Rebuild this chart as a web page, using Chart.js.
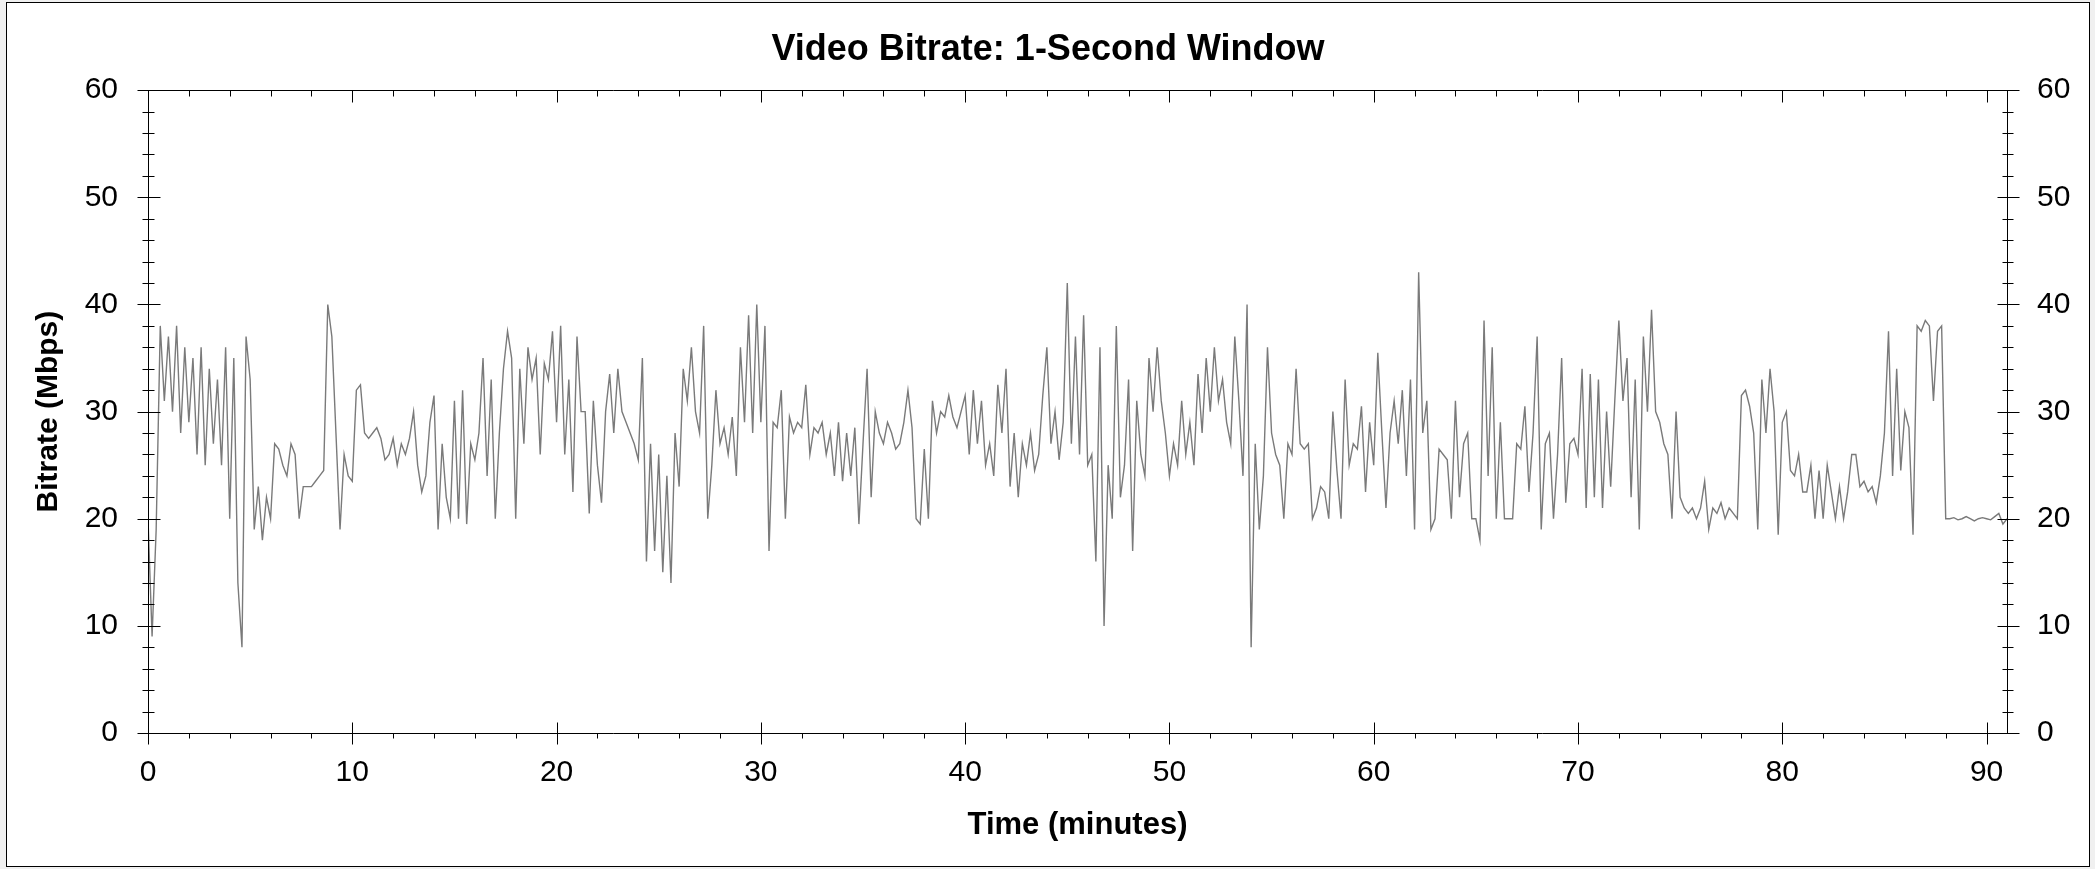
<!DOCTYPE html>
<html>
<head>
<meta charset="utf-8">
<title>Video Bitrate: 1-Second Window</title>
<script src="https://cdn.jsdelivr.net/npm/chart.js@4.4.1/dist/chart.umd.min.js"></script>
<style>
  html, body { margin: 0; padding: 0; background: #f0f0f0; }
  #frame {
    position: absolute; left: 6px; top: 2px;
    width: 2082px; height: 863px;
    border: 1px solid #000; background: #fff;
  }
  #bitrateChart { display: block; }
</style>
</head>
<body>
<div id="frame"><canvas id="bitrateChart" width="2082" height="863"></canvas></div>
<script>
// ================= Data =================
// minutes between samples
const STEP_MIN = 0.2;
// bitrate in Mbps, one row per minute (samples at .0 .2 .4 .6 .8)
const bitrateMbps = [
  20, 9, 19, 38, 31,        // 0
  37, 30, 38, 28, 36,       // 1
  29, 35, 26, 36, 25,       // 2
  34, 27, 33, 25, 36,       // 3
  20, 35, 14, 8, 37,        // 4
  33, 19, 23, 18, 22,       // 5
  20, 27, 26.5, 25, 24,     // 6
  27, 26, 20, 23, 23,       // 7
  23, 23.5, 24, 24.5, 40,   // 8
  37, 28, 19, 26, 24,       // 9
  23.5, 32, 32.5, 28, 27.5, // 10
  28, 28.5, 27.5, 25.5, 26, // 11
  27.5, 25, 27, 26, 27.5,   // 12
  30, 25, 22.5, 24, 29,     // 13
  31.5, 19, 27, 22, 20,     // 14
  31, 20, 32, 19.5, 27,     // 15
  25.5, 28, 35, 24, 33,     // 16
  20, 28, 34, 37.5, 35,     // 17
  20, 34, 27, 36, 33,       // 18
  35, 26, 34.5, 33, 37.5,   // 19
  29, 38, 26, 33, 22.5,     // 20
  37, 30, 30, 20.5, 31,     // 21
  25, 21.5, 30, 33.5, 28,   // 22
  34, 30, 29, 28, 27,       // 23
  25.5, 35, 16, 27, 17,     // 24
  26, 15, 24, 14, 28,       // 25
  23, 34, 31, 36, 30,       // 26
  28, 38, 20, 25, 32,       // 27
  27, 28.5, 26, 29.5, 24,   // 28
  36, 29, 39, 28, 40,       // 29
  29, 38, 17, 29, 28.5,     // 30
  32, 20, 29.5, 28, 29,     // 31
  28.5, 32.5, 26, 28.5, 28, // 32
  29, 26, 28, 24, 29,       // 33
  23.5, 28, 24, 28.5, 19.5, // 34
  27, 34, 22, 30, 28,       // 35
  27, 29, 28, 26.5, 27,     // 36
  29, 32, 28.5, 20, 19.5,   // 37
  26.5, 20, 31, 28, 30,     // 38
  29.5, 31.5, 29.5, 28.5, 30, // 39
  31.5, 26, 32, 27, 31,     // 40
  25, 27, 24, 32.5, 28,     // 41
  34, 23, 28, 22, 27,       // 42
  25, 28, 24.5, 26, 31.5,   // 43
  36, 27, 30, 25.5, 29,     // 44
  42, 27, 37, 26, 39,       // 45
  25, 26, 16, 36, 10,       // 46
  25, 20, 38, 22, 25,       // 47
  33, 17, 31, 26, 24,       // 48
  35, 30, 36, 31, 28,       // 49
  24, 27, 25, 31, 26,       // 50
  29, 25, 33.5, 28, 35,     // 51
  30, 36, 31, 33, 29,       // 52
  27, 37, 31, 24, 40,       // 53
  8, 27, 19, 24, 36,        // 54
  28, 26, 25, 20, 27,       // 55
  26, 34, 27, 26.5, 27,     // 56
  20, 21, 23, 22.5, 20,     // 57
  30, 24.5, 20, 33, 25,     // 58
  27, 26.5, 30.5, 22.5, 29, // 59
  25, 35.5, 28, 21, 28,     // 60
  31, 27, 32, 24, 33,       // 61
  19, 43, 28, 31, 19,       // 62
  20, 26.5, 26, 25.5, 20,   // 63
  31, 22, 27, 28, 20,       // 64
  20, 18, 38.5, 24, 36,     // 65
  20, 29, 20, 20, 20,       // 66
  27, 26.5, 30.5, 22.5, 28, // 67
  37, 19, 27, 28, 20,       // 68
  26, 35, 21.5, 27, 27.5,   // 69
  26, 34, 21, 33.5, 22,     // 70
  33, 21, 30, 23, 31,       // 71
  38.5, 31, 35, 22, 33,     // 72
  19, 37, 30, 39.5, 30,     // 73
  29, 27, 26, 20, 30,       // 74
  22, 21, 20.5, 21, 20,     // 75
  21, 23.5, 19, 21, 20.5,   // 76
  21.5, 20, 21, 20.5, 20,   // 77
  31.5, 32, 30.5, 28, 19,   // 78
  33, 28, 34, 30, 18.5,     // 79
  29, 30, 24.5, 24, 26,     // 80
  22.5, 22.5, 25, 20, 24.5, // 81
  20, 25, 22.5, 20, 23,     // 82
  20, 22.5, 26, 26, 23,     // 83
  23.5, 22.5, 23, 21.5, 24, // 84
  28, 37.5, 24, 34, 24.5,   // 85
  30, 28.5, 18.5, 38, 37.5, // 86
  38.5, 38, 31, 37.5, 38,   // 87
  20, 20, 20.1, 19.9, 20,   // 88
  20.2, 20, 19.8, 20, 20.1, // 89
  20, 19.9, 20.2, 20.5, 19.5, // 90
  20                        // 91
];

const xTicks = [0, 10, 20, 30, 40, 50, 60, 70, 80, 90];
const yTicks = [0, 10, 20, 30, 40, 50, 60];
const X_MAX = 91;
const Y_MAX = 60;
const MINOR_STEP = 2;

// ================= Chart =================
const FONT = '"Liberation Sans", Arial, sans-serif';

function fixedTicks(list) {
  return scale => { scale.ticks = list.map(v => ({ value: v })); };
}

// frame with crossing major ticks and small minor ticks on all four sides
const frameAxes = {
  id: 'frameAxes',
  afterDraw(chart) {
    const { ctx, chartArea: a, scales: { x, y } } = chart;
    const px = v => Math.round(x.getPixelForValue(v)) + 0.5;
    const py = v => Math.round(y.getPixelForValue(v)) + 0.5;
    const L = Math.round(a.left) + 0.5, R = Math.round(a.right) + 0.5;
    const T = Math.round(a.top) + 0.5, B = Math.round(a.bottom) + 0.5;
    const seg = (x1, y1, x2, y2) => { ctx.moveTo(x1, y1); ctx.lineTo(x2, y2); };

    ctx.save();
    ctx.strokeStyle = '#000';
    ctx.lineWidth = 1;
    ctx.beginPath();
    seg(L, T, R, T); seg(L, B, R, B);
    seg(L, T, L, B); seg(R, T, R, B);

    yTicks.forEach(v => {
      const p = py(v);
      seg(L - 11, p, L + 12, p);
      seg(R - 10, p, R + 12, p);
    });
    for (let v = MINOR_STEP; v < Y_MAX; v += MINOR_STEP) {
      if (v % 10 === 0) continue;
      const p = py(v);
      seg(L - 6, p, L + 6, p);
      seg(R - 5, p, R + 6, p);
    }
    xTicks.forEach(v => {
      const p = px(v);
      seg(p, B - 11, p, B + 11);
      seg(p, T, p, T + 12);
    });
    for (let v = MINOR_STEP; v < X_MAX; v += MINOR_STEP) {
      if (v % 10 === 0) continue;
      const p = px(v);
      seg(p, B, p, B + 5);
      seg(p, T, p, T + 6);
    }
    ctx.stroke();
    ctx.restore();
  }
};

const tickFont = { family: FONT, size: 30 };

new Chart(document.getElementById('bitrateChart').getContext('2d'), {
  type: 'line',
  data: {
    datasets: [{
      label: 'Video bitrate',
      data: bitrateMbps.map((v, i) => ({ x: i * STEP_MIN, y: v })),
      borderColor: '#7a7a7a',
      borderWidth: 1.4,
      pointRadius: 0,
      tension: 0,
      fill: false,
      yAxisID: 'y'
    }]
  },
  options: {
    responsive: false,
    devicePixelRatio: 1,
    animation: false,
    layout: { padding: 0 },
    scales: {
      x: {
        type: 'linear',
        position: 'bottom',
        min: 0,
        max: X_MAX,
        afterBuildTicks: fixedTicks(xTicks),
        afterFit: s => { s.height = 133; },
        grid: { display: false, drawTicks: false },
        border: { display: false },
        ticks: { color: '#000', font: tickFont, padding: 22, maxRotation: 0, autoSkip: false },
        title: {
          display: true,
          text: 'Time (minutes)',
          color: '#000',
          font: { family: FONT, size: 31, weight: 'bold' },
          padding: { top: 0, bottom: 22 }
        }
      },
      y: {
        position: 'left',
        min: 0,
        max: Y_MAX,
        afterBuildTicks: fixedTicks(yTicks),
        afterFit: s => { s.width = 141; },
        grid: { display: false, drawTicks: false },
        border: { display: false },
        ticks: { color: '#000', font: tickFont, padding: 30 },
        title: {
          display: true,
          text: 'Bitrate (Mbps)',
          color: '#000',
          font: { family: FONT, size: 30, weight: 'bold' },
          padding: { top: 24, bottom: 0 }
        }
      },
      y2: {
        position: 'right',
        min: 0,
        max: Y_MAX,
        afterBuildTicks: fixedTicks(yTicks),
        afterFit: s => { s.width = 82; },
        grid: { display: false, drawTicks: false },
        border: { display: false },
        ticks: { color: '#000', font: tickFont, padding: 30 }
      }
    },
    plugins: {
      legend: { display: false },
      tooltip: { enabled: false },
      title: {
        display: true,
        text: 'Video Bitrate: 1-Second Window',
        color: '#000',
        font: { family: FONT, size: 36, weight: 'bold' },
        padding: { top: 25, bottom: 19 }
      }
    }
  },
  plugins: [frameAxes]
});
</script>
</body>
</html>
